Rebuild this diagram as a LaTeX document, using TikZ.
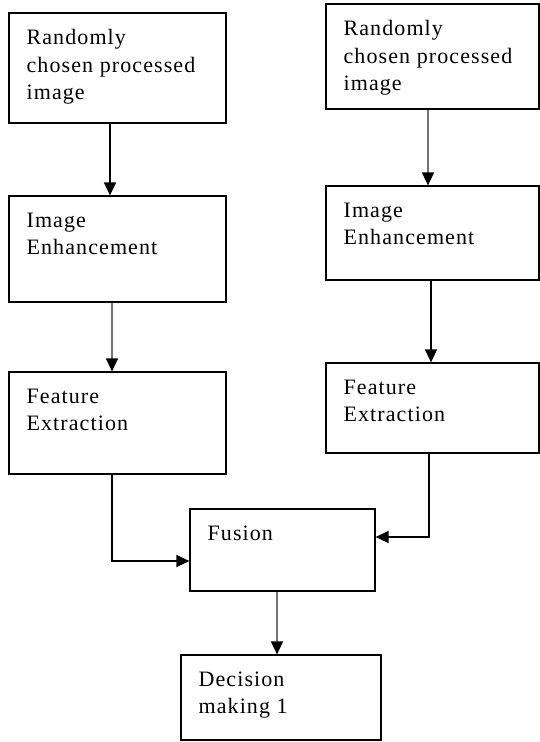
\documentclass[tikz,border=0pt]{standalone}
\usepackage{fontspec}
\setmainfont{Liberation Serif}
\newfontfamily\boxfont[LetterSpace=5]{Liberation Serif}
\usetikzlibrary{arrows.meta}
\definecolor{linegray}{gray}{0.45}

\begin{document}
\begin{tikzpicture}[x=1pt,y=-1pt,
  procbox/.style 2 args={draw=black,line width=1.2pt,minimum width=#1,minimum height=#2,inner sep=0pt},
  boxtext/.style={anchor=north west,inner sep=0pt,align=left,xshift=18pt,yshift=-17pt,
    font=\boxfont\fontsize{22}{27.5}\selectfont},
  flow/.style={line width=1.3pt,-{Triangle[length=13pt,width=12pt,black]}},
  grayflow/.style={flow,draw=linegray,line width=1.6pt}]
  \useasboundingbox (0,0) rectangle (540,742);
  % left branch
  \node[procbox={217pt}{110pt},label={[boxtext]north west:{Randomly\\chosen processed\\image}}] (L1) at (117.5,68) {};
  \node[procbox={217pt}{106pt},label={[boxtext]north west:{Image\\Enhancement}}] (L2) at (117.5,249) {};
  \node[procbox={217pt}{102pt},label={[boxtext]north west:{Feature\\Extraction}}] (L3) at (117.5,423) {};
  % right branch
  \node[procbox={213pt}{105pt},label={[boxtext]north west:{Randomly\\chosen processed\\image}}] (R1) at (432.5,56.5) {};
  \node[procbox={213pt}{94pt},label={[boxtext]north west:{Image\\Enhancement}}] (R2) at (432.5,233) {};
  \node[procbox={213pt}{90pt},label={[boxtext]north west:{Feature\\Extraction}}] (R3) at (432.5,408) {};
  % fusion and decision
  \node[procbox={185pt}{82pt},label={[boxtext]north west:{Fusion}}] (Fus) at (282.5,550) {};
  \node[procbox={200pt}{85pt},label={[boxtext]north west:{Decision\\making 1}}] (Dec) at (281,697.5) {};
  % connectors
  \draw[flow] ([xshift=-7.5pt]L1.south) -- ([xshift=-7.5pt]L2.north);
  \draw[grayflow] ([xshift=-5.5pt]L2.south) -- ([xshift=-5.5pt]L3.north);
  \draw[grayflow] ([xshift=-4.5pt]R1.south) -- ([xshift=-4.5pt]R2.north);
  \draw[flow] ([xshift=-1.5pt]R2.south) -- ([xshift=-1.5pt]R3.north);
  \draw[flow] ([xshift=-5.5pt]L3.south) |- ([yshift=-11pt]Fus.west);
  \draw[flow] ([xshift=-3.5pt]R3.south) |- ([yshift=13pt]Fus.east);
  \draw[grayflow] ([xshift=-5.5pt]Fus.south) -- ([xshift=-5.5pt]Fus.south |- Dec.north);
\end{tikzpicture}
\end{document}
